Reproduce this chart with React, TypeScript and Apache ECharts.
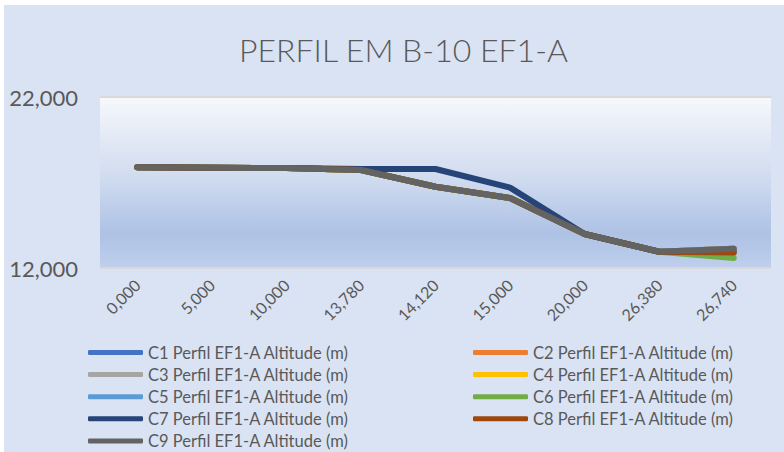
import React, { useEffect, useRef } from "react";
import * as echarts from "echarts";

const categories = ["0,000", "5,000", "10,000", "13,780", "14,120", "15,000", "20,000", "26,380", "26,740"];
const seriesNames = [
  "C1 Perfil EF1-A Altitude (m)",
  "C2 Perfil EF1-A Altitude (m)",
  "C3 Perfil EF1-A Altitude (m)",
  "C4 Perfil EF1-A Altitude (m)",
  "C5 Perfil EF1-A Altitude (m)",
  "C6 Perfil EF1-A Altitude (m)",
  "C7 Perfil EF1-A Altitude (m)",
  "C8 Perfil EF1-A Altitude (m)",
  "C9 Perfil EF1-A Altitude (m)",
];
const seriesColors = ["#4472C4", "#ED7D31", "#A5A5A5", "#FFC000", "#5B9BD5", "#70AD47", "#264478", "#9E480E", "#636363"];

const c1 = [17890, 17860, 17850, 17730, 16750, 16090, 13990, 12950, 13130];
const c2 = [17890, 17860, 17850, 17730, 16750, 16090, 13990, 12950, 13130];
const c3 = [17890, 17860, 17850, 17730, 16750, 16090, 13990, 12950, 13130];
const c4 = [17890, 17860, 17850, 17730, 16750, 16090, 13990, 12950, 13130];
const c5 = [17890, 17860, 17850, 17730, 16750, 16090, 13990, 12950, 13130];
const c6 = [17890, 17860, 17850, 17730, 16750, 16090, 13990, 12950, 12590];
const c7 = [17890, 17860, 17850, 17790, 17790, 16700, 13990, 12950, 12950];
const c8 = [17890, 17860, 17850, 17730, 16750, 16090, 13990, 12950, 12900];
const c9 = [17890, 17860, 17850, 17730, 16750, 16090, 13990, 12950, 13130];
const seriesValues = [c1, c2, c3, c4, c5, c6, c7, c8, c9];

const yMin = 12000;
const yMax = 22000;
const yInterval = 10000;

const FONT = "Lato, 'Open Sans', sans-serif";
const TEXT = "#595959";

export default function App() {
  const ref = useRef<HTMLDivElement>(null);
  useEffect(() => {
    if (!ref.current) return;
    const chart = echarts.init(ref.current, null, { renderer: "svg" });
    const legendText = { color: TEXT, fontSize: 16.5, fontFamily: FONT, lineHeight: 16 };
    const legendBase = {
      orient: "vertical",
      top: 344,
      height: 106,
      itemWidth: 55,
      itemHeight: 5,
      itemGap: 5.1,
      icon: "roundRect",
      padding: 0,
      textStyle: legendText,
    };
    const option: any = {
      animation: false,
      backgroundColor: "#FFFFFF",
      graphic: [
        {
          type: "rect",
          z: -10,
          shape: { x: 4, y: 5, width: 780, height: 447 },
          style: { fill: "#DAE3F3" },
          silent: true,
        },
      ],
      title: {
        text: "PERFIL EM B-10 EF1-A",
        left: 234,
        top: 28,
        textStyle: { color: TEXT, fontSize: 32, fontWeight: 300, fontFamily: FONT },
      },
      legend: [
        {
          ...legendBase,
          left: 88,
          data: [seriesNames[0], seriesNames[2], seriesNames[4], seriesNames[6], seriesNames[8]],
        },
        {
          ...legendBase,
          left: 473,
          data: [seriesNames[1], seriesNames[3], seriesNames[5], seriesNames[7]],
        },
      ],
      grid: {
        left: 100,
        right: 13,
        top: 97,
        bottom: 184,
        show: true,
        borderWidth: 0,
        backgroundColor: new echarts.graphic.LinearGradient(0, 0, 0, 1, [
          { offset: 0, color: "#F6F8FC" },
          { offset: 0.45, color: "#D2DDF0" },
          { offset: 0.8, color: "#AEC2E5" },
          { offset: 1, color: "#BFCFEC" },
        ]),
      },
      xAxis: {
        type: "category",
        data: categories,
        boundaryGap: true,
        axisLine: { show: false },
        axisTick: { show: false },
        axisLabel: { rotate: 45, color: TEXT, fontSize: 16, fontFamily: FONT, margin: 14 },
      },
      yAxis: {
        type: "value",
        min: yMin,
        max: yMax,
        interval: yInterval,
        axisLine: { show: false },
        axisTick: { show: false },
        splitLine: { show: true, lineStyle: { color: "#D9D9D9", width: 2 } },
        axisLabel: {
          color: TEXT,
          fontSize: 22,
          fontFamily: FONT,
          margin: 22,
          formatter: (v: number) => v.toLocaleString("en-US"),
        },
      },
      series: seriesNames.map((name, i) => ({
        name,
        type: "line",
        data: seriesValues[i],
        symbol: "none",
        color: seriesColors[i],
        lineStyle: { width: 6, color: seriesColors[i], cap: "round", join: "round" },
        z: 2 + i,
      })),
    };
    chart.setOption(option);
    return () => chart.dispose();
  }, []);
  return (
    <div
      ref={ref}
      style={{ position: "absolute", left: 0, top: 0, width: 784, height: 452 }}
    />
  );
}
